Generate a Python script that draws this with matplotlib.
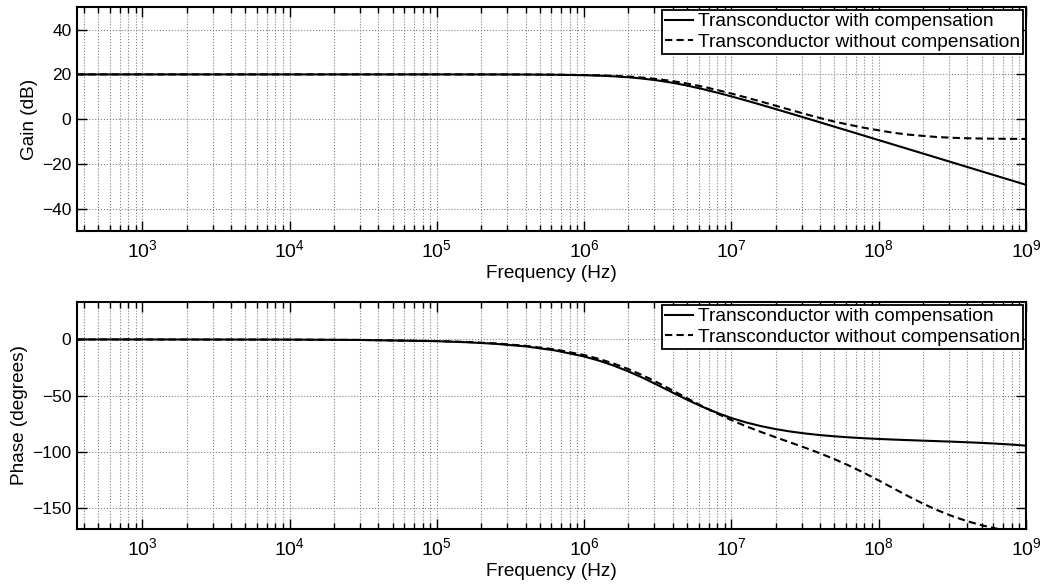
import numpy as np
import matplotlib
matplotlib.use("Agg")
import matplotlib.pyplot as plt

plt.rcParams['font.family'] = ['Liberation Sans', 'DejaVu Sans']
plt.rcParams['mathtext.fontset'] = 'custom'
plt.rcParams['mathtext.rm'] = 'Liberation Sans'
plt.rcParams['axes.unicode_minus'] = True

# frequency points (Hz)
freq = [360, 1e3, 1e4, 3e4, 1e5, 1.6e5, 2.5e5, 4e5, 6.3e5,
        1e6, 1.26e6, 1.58e6, 2e6, 2.5e6, 3.2e6, 4e6, 5e6, 6.3e6, 8e6,
        1e7, 1.26e7, 1.58e7, 2e7, 2.5e7, 3.2e7, 4e7, 5e7, 6.3e7, 8e7,
        1e8, 1.26e8, 1.58e8, 2e8, 2.5e8, 3.2e8, 4e8, 5e8, 6.3e8, 8e8, 1e9]

# gain (dB)
gain_comp = [20.0, 20.0, 20.0, 20.0, 20.0, 19.99, 19.98, 19.94, 19.85,
             19.64, 19.44, 19.15, 18.71, 18.12, 17.25, 16.23, 15.00, 13.53, 11.85,
             10.15, 8.32, 6.46, 4.49, 2.59, 0.48, -1.44, -3.37, -5.37, -7.44,
             -9.38, -11.38, -13.34, -15.39, -17.33, -19.47, -21.41, -23.35, -25.36, -27.43, -29.37]
gain_nocomp = [20.0, 20.0, 20.0, 20.0, 20.0, 19.99, 19.98, 19.96, 19.89,
               19.74, 19.59, 19.37, 19.03, 18.57, 17.85, 16.99, 15.92, 14.60, 13.03,
               11.43, 9.67, 7.89, 5.99, 4.18, 2.21, 0.48, -1.1, -2.5, -3.9,
               -5.0, -6.1, -6.9, -7.5, -8.0, -8.35, -8.55, -8.68, -8.76, -8.82, -8.85]

# phase (degrees)
phase_comp = [0.0, -0.02, -0.15, -0.46, -1.55, -2.48, -3.87, -6.17, -9.66,
              -15.12, -18.81, -23.13, -28.39, -34.04, -40.86, -47.23, -53.50, -59.58, -65.18,
              -69.75, -73.70, -76.89, -79.61, -81.69, -83.54, -84.90, -85.99, -86.92, -87.71,
              -88.33, -88.89, -89.37, -89.84, -90.28, -90.78, -91.27, -91.83, -92.50, -93.33, -94.29]
phase_nocomp = [0.0, -0.01, -0.14, -0.42, -1.41, -2.25, -3.52, -5.62, -8.81,
                -13.83, -17.26, -21.32, -26.34, -31.86, -38.71, -45.36, -52.17, -59.08, -65.82,
                -71.62, -77.11, -82.04, -86.89, -91.35, -96.35, -101.11, -106.24, -112.04, -118.61,
                -125.16, -132.20, -139.03, -145.77, -151.57, -157.14, -161.40, -164.95, -167.96, -170.47, -172.35]

labels = ['Transconductor with compensation', 'Transconductor without compensation']
decades = [1e3, 1e4, 1e5, 1e6, 1e7, 1e8, 1e9]
f_min, f_max = 360, 1e9


def style_axes(ax):
    ax.set_xscale('log')
    ax.set_xlim(f_min, f_max)
    ax.set_xticks(decades)
    ax.xaxis.set_minor_locator(matplotlib.ticker.LogLocator(base=10, subs=np.arange(2, 10)))
    ax.xaxis.set_minor_formatter(matplotlib.ticker.NullFormatter())
    for s in ax.spines.values():
        s.set_linewidth(1.5)
    ax.tick_params(which='both', direction='in', top=True, right=True, width=1.0)
    ax.tick_params(which='major', length=7)
    ax.tick_params(which='minor', length=4)
    ax.tick_params(axis='x', pad=6, labelsize=14)
    ax.tick_params(axis='y', pad=4, labelsize=12.5)
    ax.grid(True, which='major', linestyle=':', color='0.5', linewidth=0.8)
    ax.grid(True, which='minor', axis='x', linestyle=':', color='0.5', linewidth=0.8)
    ax.set_xlabel('Frequency (Hz)', fontsize=13.7, labelpad=3)
    leg = ax.legend(labels, loc='upper right', fontsize=13.8, fancybox=False,
                    edgecolor='black', framealpha=1, borderaxespad=0.15,
                    borderpad=0.15, handlelength=1.5, handletextpad=0.25,
                    labelspacing=0.15)
    leg.get_frame().set_linewidth(1.3)


fig = plt.figure(figsize=(10.43, 5.84), dpi=100)
ax1 = fig.add_axes([0.0738, 0.6045, 0.9099, 0.383])
ax2 = fig.add_axes([0.0738, 0.0947, 0.9099, 0.3877])

ax1.plot(freq, gain_comp, 'k-', lw=1.5)
ax1.plot(freq, gain_nocomp, 'k--', lw=1.5, dashes=(3.5, 2))
ax1.set_ylim(-50, 50)
ax1.set_yticks([-40, -20, 0, 20, 40])
ax1.set_ylabel('Gain (dB)', fontsize=13.7, labelpad=3)
style_axes(ax1)

ax2.plot(freq, phase_comp, 'k-', lw=1.5)
ax2.plot(freq, phase_nocomp, 'k--', lw=1.5, dashes=(3.5, 2))
ax2.set_ylim(-168, 33)
ax2.set_yticks([-150, -100, -50, 0])
ax2.set_ylabel('Phase (degrees)', fontsize=13.7, labelpad=3)
style_axes(ax2)

fig.savefig('out.png', dpi=100)
